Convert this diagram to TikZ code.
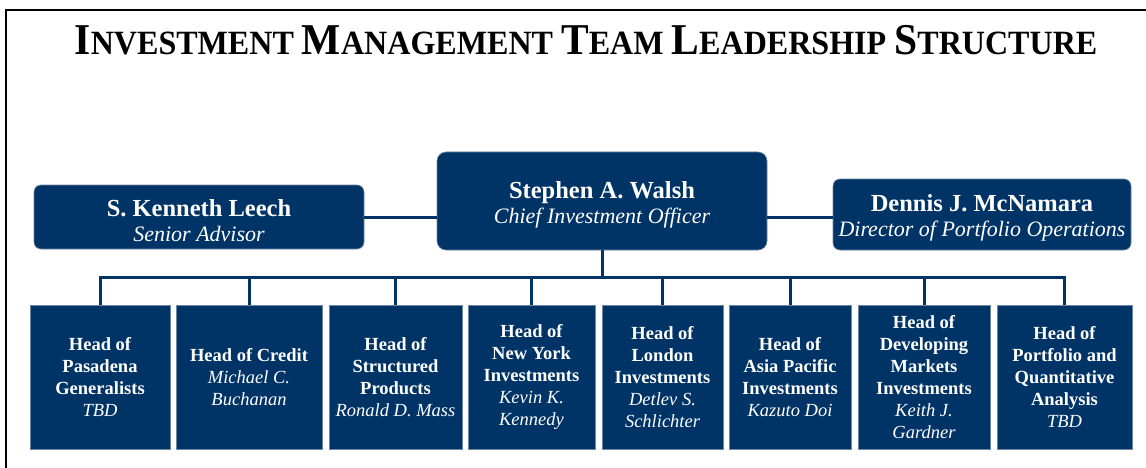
\documentclass[tikz,border=0pt]{standalone}
\usepackage{fontspec}
\usepackage{graphicx}
\setmainfont{Liberation Serif}
\definecolor{navy}{RGB}{0,51,102}
\definecolor{edge}{RGB}{110,135,165}
% fake small caps for the heading
\newcommand\capbig[1]{{\fontsize{44}{44}\selectfont #1}}
\newcommand\capsmall[1]{{\fontsize{34}{34}\selectfont #1}}
% strut that lowers a two-line name block a little
\newcommand\lift{\rule{0pt}{24pt}}
\begin{document}
\begin{tikzpicture}[x=1pt,y=-1pt,
  topbox/.style={fill=navy,draw=edge,line width=0.6pt,rounded corners=7pt,
    text=white,align=center,inner sep=0pt,
    font=\fontsize{22}{25}\selectfont},
  headbox/.style={fill=navy,draw=edge,line width=0.6pt,text=white,
    align=center,inner sep=0pt,minimum height=144pt,
    font=\fontsize{18.5}{22}\selectfont\bfseries},
  link/.style={draw=navy,line width=3pt}]
\useasboundingbox (0,0) rectangle (1146,468);
\fill[white] (0,0) rectangle (1146,468);
% frame
\draw[line width=2.4pt] (6,468) -- (6,10) -- (1146,10);
% heading
\node[anchor=base,font=\fontsize{34}{34}\selectfont\bfseries,inner sep=0pt] (title) at (586,55)
  {\scalebox{0.943}[1]{\capbig{I}\capsmall{NVESTMENT} \capbig{M}\capsmall{ANAGEMENT} \capbig{T}\capsmall{EAM} \capbig{L}\capsmall{EADERSHIP} \capbig{S}\capsmall{TRUCTURE}}};
% leadership row
\node[topbox,minimum width=330pt,minimum height=64pt] (leech) at (199,217)
  {\lift{\fontsize{24.5}{25}\selectfont\bfseries S. Kenneth Leech}\\\itshape Senior Advisor};
\node[topbox,minimum width=330pt,minimum height=98pt,rounded corners=9pt] (walsh) at (602,201)
  {\lift{\fontsize{24.5}{25}\selectfont\bfseries Stephen A. Walsh}\\\itshape Chief Investment Officer};
\node[topbox,minimum width=298pt,minimum height=71pt] (mcn) at (982,214.5)
  {\lift{\fontsize{24.5}{25}\selectfont\bfseries Dennis J. McNamara}\\\itshape Director of Portfolio Operations};
% heads row
\node[headbox,minimum width=140pt] (b1) at (100,377)
  {Head of\\Pasadena\\Generalists\\{\mdseries\itshape TBD}};
\node[headbox,minimum width=146pt] (b2) at (249,377)
  {Head of Credit\\{\mdseries\itshape Michael C.}\\{\mdseries\itshape Buchanan}};
\node[headbox,minimum width=133pt] (b3) at (395.5,377)
  {Head of\\Structured\\Products\\{\mdseries\itshape Ronald D. Mass}};
\node[headbox,minimum width=127pt] (b4) at (531.5,377)
  {Head of\\New York\\Investments\\{\mdseries\itshape Kevin K.}\\{\mdseries\itshape Kennedy}};
\node[headbox,minimum width=121pt] (b5) at (662.5,377)
  {Head of\\London\\Investments\\{\mdseries\itshape Detlev S.}\\{\mdseries\itshape Schlichter}};
\node[headbox,minimum width=122pt] (b6) at (790,377)
  {Head of\\Asia Pacific\\Investments\\{\mdseries\itshape Kazuto Doi}};
\node[headbox,minimum width=132pt] (b7) at (924,377)
  {Head of\\Developing\\Markets\\Investments\\{\mdseries\itshape Keith J.}\\{\mdseries\itshape Gardner}};
\node[headbox,minimum width=135pt] (b8) at (1064.5,377)
  {Head of\\Portfolio and\\Quantitative\\Analysis\\{\mdseries\itshape TBD}};
% connectors
\coordinate (bus) at (602,277);
\draw[link] (leech.east) -- (leech.east -| walsh.west);
\draw[link] (walsh.east |- leech.east) -- (mcn.west |- leech.east);
\draw[link] (walsh.south) -- (bus);
\draw[link] (b1.north) |- (b8.north |- bus) -- (b8.north);
\foreach \b in {b2,b3,b4,b5,b6,b7}
  \draw[link] (\b.north) -- (\b.north |- bus);
\end{tikzpicture}
\end{document}
